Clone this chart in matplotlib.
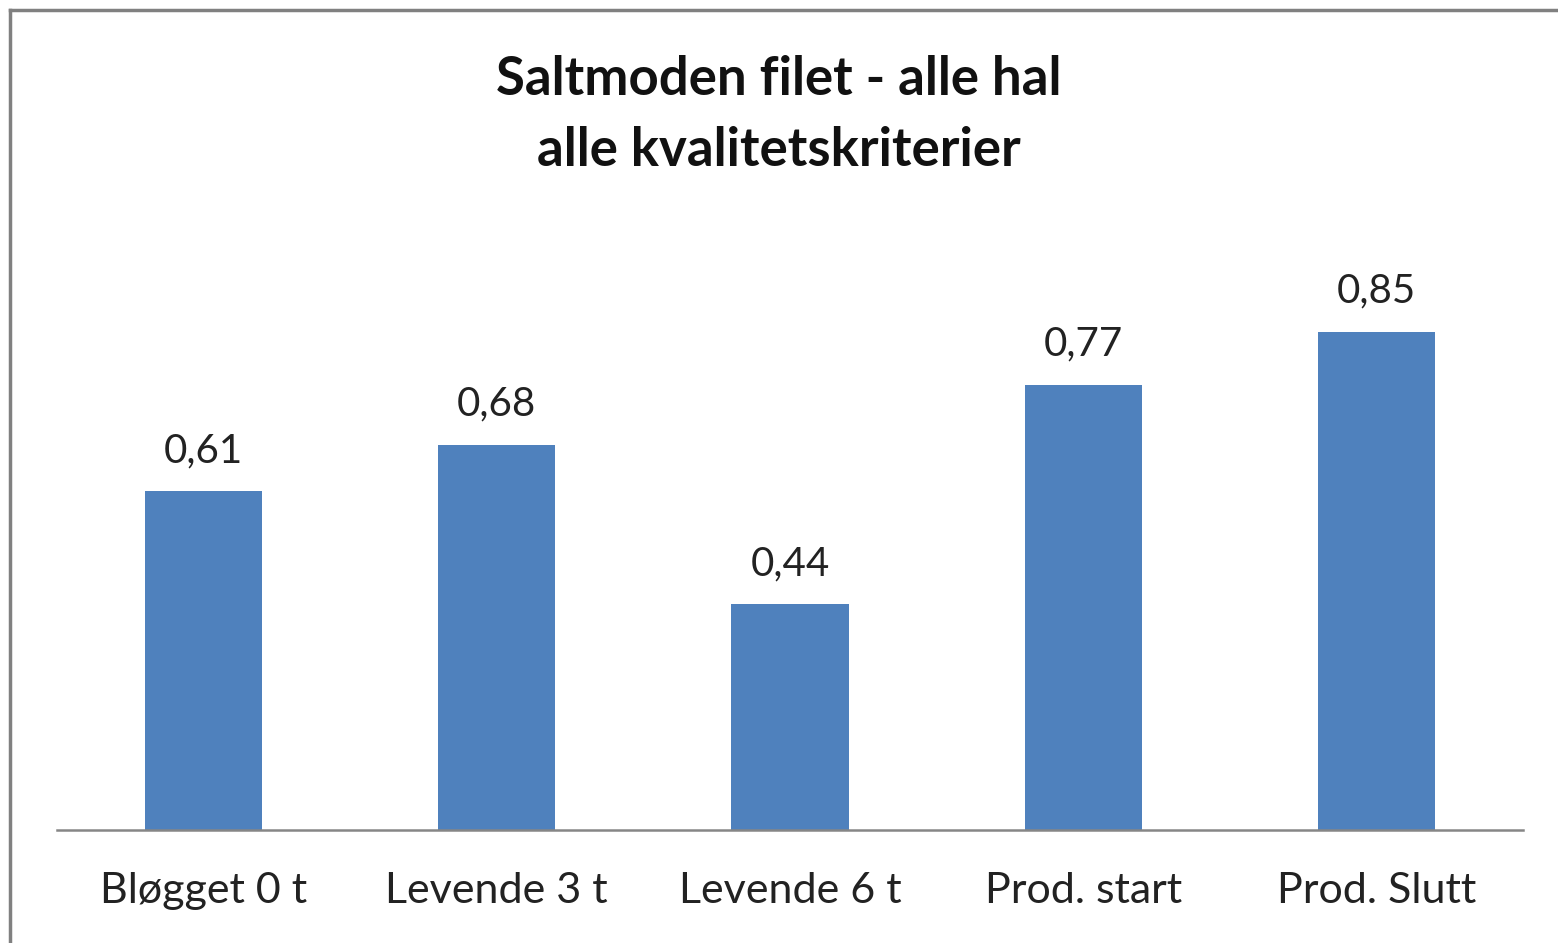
import matplotlib
matplotlib.use("Agg")
import matplotlib.pyplot as plt
from matplotlib.lines import Line2D

categories = ["Bløgget 0 t", "Levende 3 t", "Levende 6 t", "Prod. start", "Prod. Slutt"]
values = [0.61, 0.68, 0.44, 0.77, 0.85]
labels = ["0,61", "0,68", "0,44", "0,77", "0,85"]
title = "Saltmoden filet - alle hal\nalle kvalitetskriterier"

plt.rcParams['font.family'] = ['Lato', 'DejaVu Sans']

W, H = 1558, 943
fig = plt.figure(figsize=(W/100, H/100), dpi=100)
fig.patch.set_facecolor("white")

ax = fig.add_axes([57/W, 1-830/H, (1523-57)/W, (830-232)/H])
x = list(range(len(categories)))
bars = ax.bar(x, values, width=0.4, color="#4F81BD", bottom=0)
ax.set_ylim(0.1, 1.0)
ax.set_xlim(-0.5, len(categories)-0.5)
for xi, v, lab in zip(x, values, labels):
    ax.text(xi, v + 0.033, lab, ha="center", va="bottom", fontsize=29, color="#222222")

ax.set_xticks(x)
ax.set_xticklabels(categories, fontsize=31, color="#222222")
ax.tick_params(axis="x", length=0, pad=30)
ax.set_yticks([])
for s in ["top", "right", "left"]:
    ax.spines[s].set_visible(False)
ax.spines["bottom"].set_color("#868686")
ax.spines["bottom"].set_linewidth(1.8)

fig.text(0.5, 1-115/H, title, ha="center", va="center", fontsize=38,
         fontweight="bold", color="#111111", linespacing=1.55)

fig.add_artist(Line2D([10/W, 10/W], [0, 1-10/H], transform=fig.transFigure,
                      color="#808080", linewidth=2.5))
fig.add_artist(Line2D([10/W, 1], [1-10/H, 1-10/H], transform=fig.transFigure,
                      color="#808080", linewidth=2.5))

fig.savefig("out.png", dpi=100, facecolor="white")
